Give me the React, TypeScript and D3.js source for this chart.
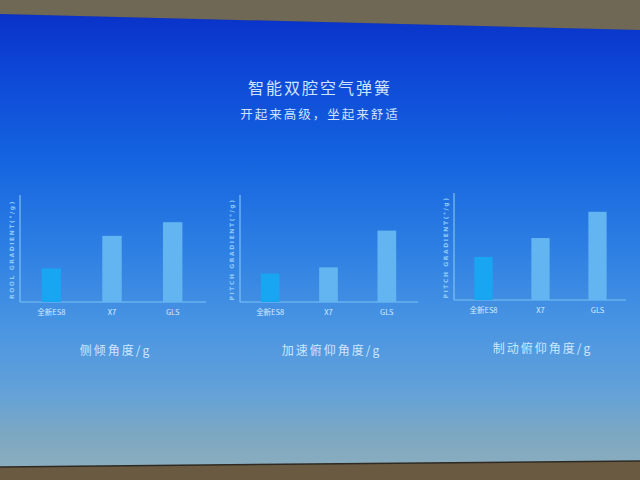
import React, { useEffect, useRef } from 'react';
import * as d3 from 'd3';

// slide content
const slideTitle = '智能双腔空气弹簧';
const slideSubtitle = '开起来高级，坐起来舒适';

const categories = ['全新ES8', 'X7', 'GLS'];

// bar heights (no ticks, relative units)
const rollValues = [0.32, 0.63, 0.76];
const accelPitchValues = [0.27, 0.33, 0.68];
const brakePitchValues = [0.41, 0.59, 0.84];

const chartTitles = ['侧倾角度/g', '加速俯仰角度/g', '制动俯仰角度/g'];
const axisLabels = ['ROOL GRADIENT(°/g)', 'PITCH GRADIENT(°/g)', 'PITCH GRADIENT(°/g)'];

const seriesList = [rollValues, accelPitchValues, brakePitchValues];

// panel layout: y axis x, band range end, baseline
const panels = [
  { left: 21, right: 203, base: 302, axisEnd: 206 },
  { left: 241, right: 416, base: 302, axisEnd: 418 },
  { left: 455, right: 626, base: 300, axisEnd: 626 },
];

const App: React.FC = () => {
  const svgRef = useRef<SVGSVGElement>(null);

  useEffect(() => {
    if (!svgRef.current) return;
    const width = 640;
    const height = 480;
    const svg = d3.select(svgRef.current);
    svg.selectAll('*').remove();
    svg.attr('width', width).attr('height', height);

    const defs = svg.append('defs');
    const grad = defs.append('linearGradient')
      .attr('id', 'screen')
      .attr('x1', 0).attr('y1', 0).attr('x2', 0).attr('y2', 1);
    [
      [0, '#0a32c8'],
      [0.12, '#0d46d6'],
      [0.32, '#1464e0'],
      [0.55, '#3283e3'],
      [0.7, '#4b96e2'],
      [0.84, '#64a2d8'],
      [0.93, '#7da8c2'],
      [1, '#8aadbf'],
    ].forEach(([o, c]) => grad.append('stop').attr('offset', o as number).attr('stop-color', c as string));

    // room + screen
    svg.append('rect').attr('width', width).attr('height', height).attr('fill', '#6a5a42');
    svg.append('polygon')
      .attr('points', '0,0 640,0 640,30 0,14')
      .attr('fill', '#6e6855');
    const screenPts = '0,14 640,30 640,461 0,467';
    svg.append('polygon').attr('points', screenPts).attr('fill', 'url(#screen)');
    svg.append('line')
      .attr('x1', 0).attr('y1', 467).attr('x2', 640).attr('y2', 461)
      .attr('stroke', '#2e2a22').attr('stroke-width', 1.5);

    const font = "'Noto Sans CJK SC', 'Noto Sans', sans-serif";

    svg.append('text')
      .attr('x', 320).attr('y', 94)
      .attr('text-anchor', 'middle')
      .attr('font-family', font)
      .attr('font-size', 16)
      .attr('letter-spacing', 2)
      .attr('fill', '#cfe3ff')
      .text(slideTitle);

    svg.append('text')
      .attr('x', 320).attr('y', 119)
      .attr('text-anchor', 'middle')
      .attr('font-family', font)
      .attr('font-size', 12.5)
      .attr('letter-spacing', 2)
      .attr('fill', '#cfe3ff')
      .text(slideSubtitle);

    panels.forEach((p, i) => {
      const values = seriesList[i];
      const g = svg.append('g');

      const x = d3.scaleBand<string>()
        .domain(categories)
        .range([p.left, p.right])
        .paddingInner(0.68)
        .paddingOuter(0.34);

      const y = d3.scaleLinear()
        .domain([0, 1])
        .range([p.base, p.base - 105]);

      // axes
      g.append('line')
        .attr('x1', p.left - 1).attr('x2', p.left - 1)
        .attr('y1', y(1) - 2).attr('y2', p.base)
        .attr('stroke', '#7cc2f6').attr('stroke-width', 1.2);
      g.append('line')
        .attr('x1', p.left - 1).attr('x2', p.axisEnd)
        .attr('y1', p.base).attr('y2', p.base)
        .attr('stroke', '#7cc2f6').attr('stroke-width', 1.2);

      // bars
      g.selectAll('rect.bar')
        .data(values)
        .enter()
        .append('rect')
        .attr('class', 'bar')
        .attr('x', (_, j) => x(categories[j]) || 0)
        .attr('y', (d) => y(d))
        .attr('width', x.bandwidth())
        .attr('height', (d) => p.base - y(d))
        .attr('fill', (_, j) => (j === 0 ? '#18a6f2' : '#63b5f1'));

      // category labels
      g.selectAll('text.cat')
        .data(categories)
        .enter()
        .append('text')
        .attr('class', 'cat')
        .attr('x', (d) => (x(d) || 0) + x.bandwidth() / 2)
        .attr('y', p.base + 13)
        .attr('text-anchor', 'middle')
        .attr('font-family', font)
        .attr('font-size', 7.5)
        .attr('fill', '#d6ebff')
        .text((d) => d);

      // rotated axis label
      const cy = (y(1) + p.base) / 2;
      g.append('text')
        .attr('transform', `translate(${p.left - 7},${cy}) rotate(-90)`)
        .attr('text-anchor', 'middle')
        .attr('font-family', "'DejaVu Sans', sans-serif")
        .attr('font-size', 6)
        .attr('font-weight', 'bold')
        .attr('letter-spacing', 1.6)
        .attr('fill', '#8fcaf6')
        .text(axisLabels[i]);

      // chart title below
      g.append('text')
        .attr('x', (p.left + p.axisEnd) / 2 + 2)
        .attr('y', p.base + 53)
        .attr('text-anchor', 'middle')
        .attr('font-family', font)
        .attr('font-size', 12)
        .attr('letter-spacing', 2)
        .attr('fill', '#cfe6ff')
        .text(chartTitles[i]);
    });
  }, []);

  return (
    <div style={{ position: 'fixed', left: 0, top: 0, width: 640, height: 480 }}>
      <svg ref={svgRef} style={{ display: 'block' }}></svg>
    </div>
  );
};

export default App;
